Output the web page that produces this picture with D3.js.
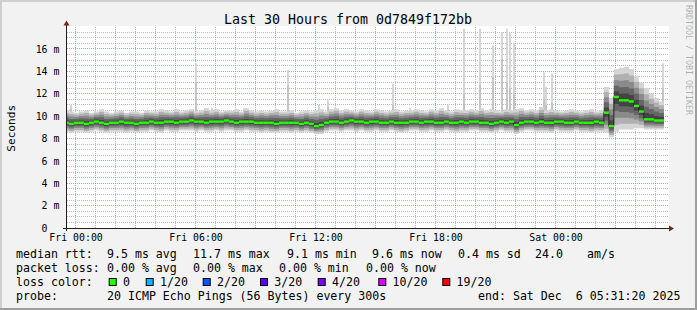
<!DOCTYPE html>
<html><head><meta charset="utf-8">
<script src="https://cdn.jsdelivr.net/npm/d3@7"></script>
<style>
body{margin:0;background:#f2f2f2}
svg{display:block}
text{font-family:"DejaVu Sans Mono",monospace;white-space:pre}
</style>
</head><body>
<svg id="chart" width="697" height="310"></svg>
<script>
// ---------------- data ----------------
const titleText = "Last 30 Hours from 0d7849f172bb";
const yAxisTitle = "Seconds";
const startTime = "2025-12-04T23:31:20";
const endTime   = "2025-12-06T05:31:20";
const binStart  = "2025-12-04T23:25:00";   // first 15-minute bin
const binMinutes = 15;

// median rtt per bin (ms)
const medianMs = [
 9.4,9.3,9.4,9.4,9.3,9.4,9.5,9.4,9.3,9.4,
 9.4,9.5,9.4,9.4,9.3,9.4,9.4,9.5,9.4,9.4,
 9.5,9.5,9.4,9.5,9.5,9.6,9.5,9.5,9.4,9.5,
 9.5,9.5,9.6,9.5,9.4,9.5,9.5,9.5,9.4,9.4,
 9.4,9.4,9.3,9.4,9.4,9.4,9.4,9.3,9.4,9.3,
 9.1,9.2,9.4,9.5,9.5,9.4,9.5,9.6,9.5,9.5,
 9.4,9.5,9.5,9.4,9.4,9.5,9.4,9.4,9.4,9.5,
 9.5,9.4,9.5,9.5,9.4,9.4,9.5,9.4,9.4,9.5,
 9.4,9.5,9.5,9.4,9.4,9.3,9.4,9.5,9.4,9.5,
 9.2,9.4,9.5,9.5,9.4,9.5,9.4,9.4,9.5,9.5,
 9.4,9.4,9.5,9.4,9.4,9.4,9.5,9.4,10.3,9.1,
 11.7,11.4,11.4,11.3,10.9,10.4,9.7,9.7,9.6,9.6
];
// lowest ping per bin (ms)
const lowMs = [
 8.6,8.5,8.6,8.6,8.5,8.6,8.7,8.6,8.5,8.6,
 8.6,8.6,8.5,8.6,8.5,8.6,8.6,8.7,8.6,8.5,
 8.7,8.6,8.6,8.7,8.7,8.7,8.6,8.7,8.6,8.6,
 8.7,8.6,8.7,8.7,8.6,8.6,8.7,8.6,8.6,8.5,
 8.6,8.5,8.5,8.6,8.6,8.5,8.6,8.5,8.6,8.5,
 8.4,8.4,8.6,8.7,8.7,8.6,8.7,8.7,8.6,8.7,
 8.6,8.6,8.7,8.6,8.6,8.7,8.6,8.5,8.6,8.7,
 8.7,8.6,8.6,8.7,8.6,8.6,8.7,8.6,8.5,8.6,
 8.6,8.7,8.7,8.6,8.6,8.5,8.6,8.7,8.6,8.6,
 8.4,8.6,8.7,8.7,8.6,8.6,8.6,8.5,8.7,8.6,
 8.6,8.6,8.7,8.6,8.6,8.5,8.6,8.6,8.5,8.1,
 8.6,8.8,8.8,8.8,8.9,8.9,8.8,8.8,8.8,8.8
];
// highest (non-outlier) ping per bin (ms)
const highMs = [
 10.5,10.4,10.3,10.4,10.5,10.3,10.4,10.6,10.4,10.3,
 10.4,10.5,10.3,10.4,10.4,10.3,10.5,10.4,10.4,10.6,
 10.5,10.4,10.6,10.4,10.5,10.6,10.4,10.5,10.7,10.5,
 10.6,10.4,10.5,10.5,10.6,10.4,10.7,10.5,10.4,10.5,
 10.4,10.5,10.6,10.4,10.4,10.5,10.3,10.4,10.5,10.4,
 10.5,10.6,10.4,10.6,10.7,10.5,10.6,10.5,10.4,10.6,
 10.5,10.4,10.6,10.5,10.4,10.5,10.6,10.4,10.5,10.5,
 10.6,10.5,10.4,10.6,10.5,10.7,10.5,10.4,10.6,10.5,
 10.5,10.6,10.5,10.7,10.5,10.6,10.5,10.4,10.6,10.5,
 10.6,10.7,10.5,10.6,10.5,10.8,10.5,10.6,10.5,10.4,
 10.5,10.6,10.5,10.4,10.5,10.6,10.4,10.5,12.6,11.6,
 14.2,14.3,14.4,14.2,13.6,13.0,12.5,12.0,11.6,11.3
];
// isolated outlier pings
const spikeTimes = [
 "2025-12-04T23:46:00","2025-12-05T06:00:00","2025-12-05T06:49:00","2025-12-05T08:25:00",
 "2025-12-05T10:37:00","2025-12-05T12:10:00","2025-12-05T12:37:00","2025-12-05T15:52:00",
 "2025-12-05T16:43:00","2025-12-05T18:37:00","2025-12-05T19:25:00","2025-12-05T20:11:00",
 "2025-12-05T20:52:00","2025-12-05T21:19:00","2025-12-05T21:34:00","2025-12-05T21:42:00",
 "2025-12-05T21:55:00","2025-12-05T23:24:00","2025-12-05T23:31:00","2025-12-05T23:48:00",
 "2025-12-06T00:43:00","2025-12-06T05:22:00"
];
const spikeMs = [
 11.0,14.7,10.7,10.7,
 14.1,11.0,11.4,12.9,
 10.7,11.0,17.8,17.8,
 16.3,17.5,17.8,17.4,
 16.5,13.9,12.6,13.8,
 10.6,14.7
];
// second-highest ping in the outlier bins (ms)
const spike2Ms = [
 10.6,13.0,10.5,10.5,
 12.7,10.6,10.8,11.0,
 10.5,10.6,12.0,12.8,
 13.5,15.1,13.0,12.5,
 12.0,11.5,11.0,11.2,
 10.5,12.5
];

const yTickValues = [0,2,4,6,8,10,12,14,16];
const yTickLabels = ["0  ","2 m","4 m","6 m","8 m","10 m","12 m","14 m","16 m"];
const xTickTimes  = ["2025-12-05T00:00:00","2025-12-05T06:00:00","2025-12-05T12:00:00","2025-12-05T18:00:00","2025-12-06T00:00:00"];
const xTickLabels = ["Fri 00:00","Fri 06:00","Fri 12:00","Fri 18:00","Sat 00:00"];

const lossColors = ["#26ff00","#00b8ff","#0059ff","#5e00ff","#7e00ff","#dd00ff","#ff0000"];
const lossLabels = ["0","1/20","2/20","3/20","4/20","10/20","19/20"];

const rttRow   = ["median rtt:","9.5 ms avg","11.7 ms max","9.1 ms min","9.6 ms now","0.4 ms sd","24.0","am/s"];
const lossRow  = ["packet loss:","0.00 % avg","0.00 % max","0.00 % min","0.00 % now"];
const colorRowTitle = "loss color:";
const probeRow = ["probe:","20 ICMP Echo Pings (56 Bytes) every 300s","end: Sat Dec  6 05:31:20 2025"];

// ---------------- layout ----------------
const W = 697, H = 310;
const plot = {x0:66, x1:666, y0:228, yTop:28};
const parse = d3.timeParse("%Y-%m-%dT%H:%M:%S");
const svg = d3.select("#chart");

const x = d3.scaleTime().domain([parse(startTime), parse(endTime)]).range([plot.x0, plot.x1]);
const y = d3.scaleLinear().domain([0, 17.86]).range([plot.y0, plot.yTop]);

// background + 3D frame
svg.append("rect").attr("width",W).attr("height",H).attr("fill","#f2f2f2");
svg.append("rect").attr("x",0).attr("y",0).attr("width",W).attr("height",2).attr("fill","#cfcfcf");
svg.append("rect").attr("x",0).attr("y",0).attr("width",2).attr("height",H).attr("fill","#cfcfcf");
svg.append("rect").attr("x",0).attr("y",H-2).attr("width",W).attr("height",2).attr("fill","#9e9e9e");
svg.append("rect").attr("x",W-2).attr("y",0).attr("width",2).attr("height",H).attr("fill","#9e9e9e");

// canvas
svg.append("rect").attr("x",67).attr("y",26).attr("width",602).attr("height",202).attr("fill","#ffffff");

// grid
const grid = svg.append("g").attr("stroke-dasharray","1,1").attr("fill","none");
const hours = d3.timeHour.range(parse(startTime), parse(endTime));
hours.forEach(h => {
  const major = h.getHours() % 3 === 0;
  const px = Math.floor(x(h)) + 0.5;
  grid.append("line").attr("x1",px).attr("x2",px).attr("y1",27).attr("y2",228)
    .attr("stroke", major ? "#de4f4f" : "#8f8f8f").attr("stroke-opacity", 0.6);
});
for (let v = 0.5; v < 17.9; v += 0.5) {
  const major = Math.abs(v/2 - Math.round(v/2)) < 1e-6;
  const py = Math.floor(y(v)) + 0.5;
  grid.append("line").attr("x1",67).attr("x2",668).attr("y1",py).attr("y2",py)
    .attr("stroke", major ? "#de4f4f" : "#8f8f8f").attr("stroke-opacity", 0.6);
}

// data
const t0 = parse(binStart);
const bins = medianMs.map((m,i) => ({
  t: d3.timeMinute.offset(t0, i*binMinutes),
  med: m, lo: lowMs[i], hi: highMs[i]
}));
const last = bins[bins.length-1];
const binsExt = bins.concat([{...last, t: d3.timeMinute.offset(last.t, binMinutes)}]);

svg.append("clipPath").attr("id","pc").append("rect")
  .attr("x",plot.x0+1).attr("y",26).attr("width",plot.x1-plot.x0).attr("height",202);
const g = svg.append("g").attr("clip-path","url(#pc)");

// outlier spikes
spikeTimes.forEach((s,i) => {
  const t = parse(s);
  const px = Math.floor(x(t));
  g.append("rect").attr("x", px).attr("width", 2)
    .attr("y", y(spikeMs[i])).attr("height", y(9.4) - y(spikeMs[i]))
    .attr("fill", "#d6d6d6");
  g.append("rect").attr("x", px).attr("width", 2)
    .attr("y", y(spike2Ms[i])).attr("height", y(9.4) - y(spike2Ms[i]))
    .attr("fill", "#c4c4c4");
});

// smoke bands (outer light -> inner dark)
const bands = [
  {f:1.0, c:"#d4d4d4"},
  {f:0.8, c:"#b0b0b0"},
  {f:0.6, c:"#8a8a8a"},
  {f:0.4, c:"#666666"},
  {f:0.2, c:"#444444"}
];
bands.forEach(b => {
  const area = d3.area().curve(d3.curveStepAfter)
    .x(d => x(d.t))
    .y0(d => y(d.med - b.f*(d.med - d.lo)))
    .y1(d => y(d.med + b.f*(d.hi - d.med)));
  g.append("path").datum(binsExt).attr("d", area).attr("fill", b.c);
});

// median: dark connecting step line, then loss-coloured segments
const stepLine = d3.line().curve(d3.curveStepAfter).x(d => x(d.t)).y(d => y(d.med));
g.append("path").datum(binsExt).attr("d", stepLine).attr("fill","none").attr("stroke","#202020").attr("stroke-width",1);
bins.forEach((d,i) => {
  g.append("line").attr("x1", x(d.t)).attr("x2", x(binsExt[i+1].t))
    .attr("y1", y(d.med)).attr("y2", y(d.med))
    .attr("stroke", lossColors[0]).attr("stroke-width", 2.4);
});

// axes with labels
const xAxis = d3.axisBottom(x).tickValues(xTickTimes.map(parse))
  .tickFormat((d,i) => xTickLabels[i]).tickSize(0).tickPadding(0);
const gx = svg.append("g").attr("transform",`translate(0,${plot.y0})`).call(xAxis);
gx.select(".domain").remove();
gx.selectAll("text").attr("y",13.4).attr("dy",0).attr("font-size","9.9px")
  .attr("font-family","DejaVu Sans Mono").attr("fill","#000");

const yAxis = d3.axisLeft(y).tickValues(yTickValues)
  .tickFormat((d,i) => yTickLabels[i]).tickSize(0).tickPadding(6.6);
const gy = svg.append("g").attr("transform",`translate(${plot.x0},0)`).call(yAxis);
gy.select(".domain").remove();
gy.selectAll("text").attr("font-size","9.9px").attr("font-family","DejaVu Sans Mono").attr("fill","#000").attr("dy","0.33em");

// axis lines and arrows
svg.append("line").attr("x1",63).attr("x2",669).attr("y1",228.5).attr("y2",228.5).attr("stroke","#1f1f1f");
svg.append("line").attr("x1",66.5).attr("x2",66.5).attr("y1",231).attr("y2",25).attr("stroke","#1f1f1f");
svg.append("path").attr("d","M63.5,25.5L69.5,25.5L66.5,20.5Z").attr("fill","#801f1f");
svg.append("path").attr("d","M669,225.5L669,231.5L674,228.5Z").attr("fill","#801f1f");

// titles
svg.append("text").attr("x",348).attr("y",24).attr("text-anchor","middle")
  .attr("font-size","13.3px").attr("fill","#000").text(titleText);
svg.append("text").attr("transform","translate(14.5,128.3) rotate(-90)").attr("text-anchor","middle")
  .attr("font-size","11.1px").attr("fill","#000").text(yAxisTitle);
svg.append("text").attr("transform","translate(688.8,60) rotate(90)").attr("text-anchor","middle")
  .attr("dy","0.35em").attr("font-size","8.3px").attr("fill","#000").attr("fill-opacity",0.3)
  .text("RRDTOOL / TOBI OETIKER");

// legend
const lf = "11.6px";
const rowY = [258.4, 272.4, 286.4, 300];
const rttX = [16,107,193,287,372,458,535,587];
const lossX = [16,107,193,279,366];
const boxX = [108.7,145.7,202.7,260,317.7,378.3,442.3];
const probeX = [16,107,478];
function row(items, xs, yy){
  items.forEach((s,i)=> svg.append("text").attr("x",xs[i]).attr("y",yy)
    .attr("font-size",lf).attr("fill","#000").text(s));
}
row(rttRow, rttX, rowY[0]);
row(lossRow, lossX, rowY[1]);
row([colorRowTitle],[16],rowY[2]);
lossColors.forEach((c,i)=>{
  svg.append("rect").attr("x",boxX[i]+0.5).attr("y",278.5).attr("width",7).attr("height",7)
    .attr("fill",c).attr("stroke","#000").attr("stroke-width",1);
  svg.append("text").attr("x",boxX[i]+14.3).attr("y",rowY[2]).attr("font-size",lf).attr("fill","#000").text(lossLabels[i]);
});
row(probeRow, probeX, rowY[3]);
</script>
</body></html>
